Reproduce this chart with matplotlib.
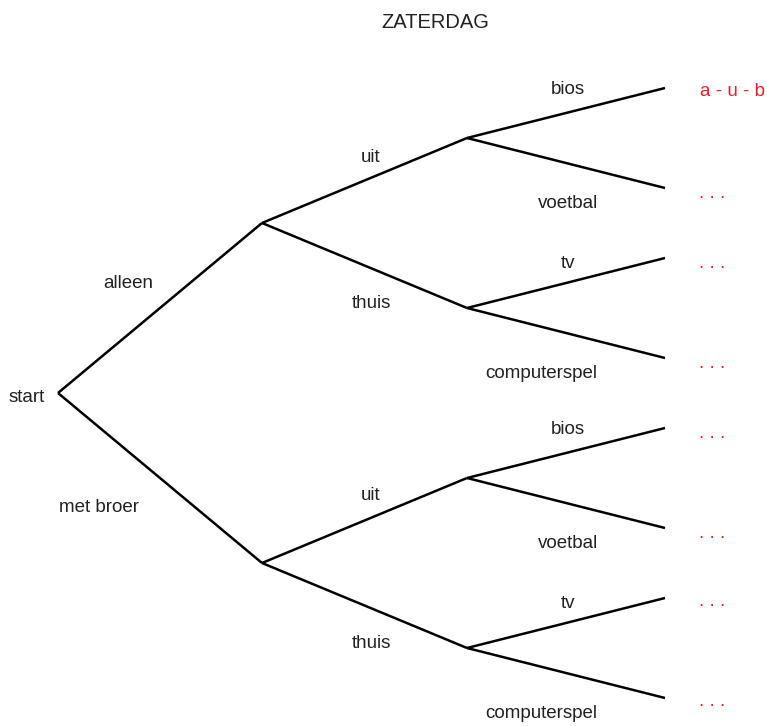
import matplotlib

matplotlib.use("Agg")
import matplotlib.pyplot as plt

plt.rcParams.update({"font.family": ["Liberation Sans", "DejaVu Sans"]})

RED = "#e8202a"
INK = "#222222"

# tree nodes (pixel space of the original drawing)
root = (58, 393)
level1 = [(262, 223), (262, 563)]
level2 = [(467, 138), (467, 308), (467, 478), (467, 648)]
leaves = [(665, 88), (665, 188), (665, 258), (665, 358),
          (665, 428), (665, 528), (665, 598), (665, 698)]

# labels
l1_labels = ["alleen", "met broer"]
l1_pos = [(128, 284), (99, 507)]
l2_labels = ["uit", "thuis", "uit", "thuis"]
l2_pos = [(371, 157), (371, 303), (371, 496), (371, 643)]
leaf_labels = ["bios", "voetbal", "tv", "computerspel",
               "bios", "voetbal", "tv", "computerspel"]
leaf_pos = [(568, 90), (568, 204), (568, 263), (541, 374),
            (568, 429), (568, 543), (568, 603), (541, 713)]
outcomes = ["a - u - b", ". . .", ". . .", ". . .", ". . .", ". . .", ". . .", ". . ."]
outcome_pos = [(732, 92), (712, 193), (712, 263), (712, 363),
               (712, 433), (712, 533), (712, 602), (712, 702)]

fig = plt.figure(figsize=(7.67, 7.26), dpi=100)
ax = fig.add_axes([0, 0, 1, 1])
ax.set_xlim(0, 767)
ax.set_ylim(726, 0)
ax.axis("off")

lw = 1.8
for i, n1 in enumerate(level1):
    ax.plot([root[0], n1[0]], [root[1], n1[1]], color="black", lw=lw, solid_capstyle="butt")
    for j in range(2):
        n2 = level2[2 * i + j]
        ax.plot([n1[0], n2[0]], [n1[1], n2[1]], color="black", lw=lw, solid_capstyle="butt")
for k, n2 in enumerate(level2):
    for j in range(2):
        lf = leaves[2 * k + j]
        ax.plot([n2[0], lf[0]], [n2[1], lf[1]], color="black", lw=lw, solid_capstyle="butt")

fs = 13.5
ax.text(27, 398, "start", ha="center", va="center", fontsize=fs, color=INK)
for lab, (x, y) in zip(l1_labels, l1_pos):
    ax.text(x, y, lab, ha="center", va="center", fontsize=fs, color=INK)
for lab, (x, y) in zip(l2_labels, l2_pos):
    ax.text(x, y, lab, ha="center", va="center", fontsize=fs, color=INK)
for lab, (x, y) in zip(leaf_labels, leaf_pos):
    ax.text(x, y, lab, ha="center", va="center", fontsize=fs, color=INK)
for lab, (x, y) in zip(outcomes, outcome_pos):
    ax.text(x, y, lab, ha="center", va="center", fontsize=fs, color=RED)

ax.text(435, 22, "ZATERDAG", ha="center", va="center", fontsize=14.5, color=INK)

fig.savefig("out.png", dpi=100, facecolor="white")
